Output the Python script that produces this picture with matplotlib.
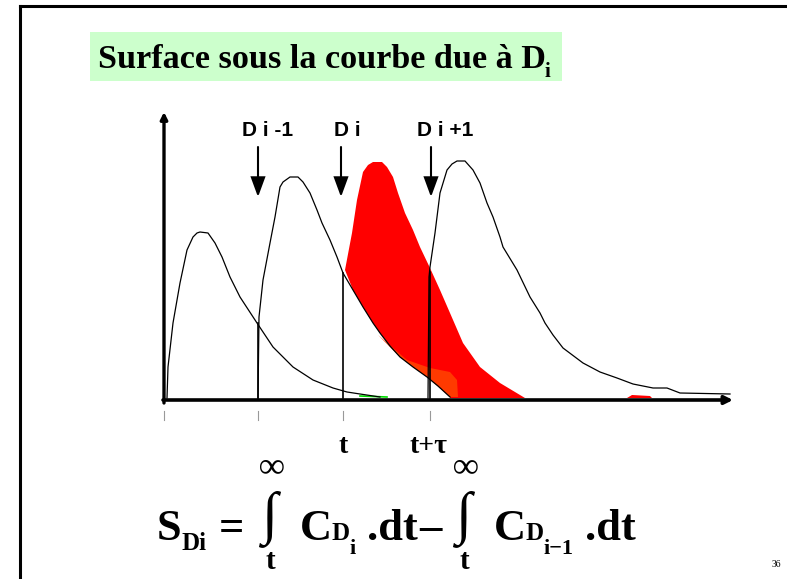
import numpy as np
import matplotlib
matplotlib.use("Agg")
import matplotlib.pyplot as plt
from matplotlib.patches import Rectangle
from matplotlib.lines import Line2D

# Figure size in pixels
W, H = 787, 579

# --- Data (time units, concentration units) ---
# curve of dose D(i-2), fully drawn
c1_t = [0.2, 0.3, 0.8, 1.5, 2.2, 2.8, 3.2, 3.5, 4.3, 5.0, 5.7, 6.5, 7.5, 9.2,
        10.8, 12.8, 14.8, 16.8, 18.2, 19.5, 21.5]
c1_c = [0.0, 3.1, 7.5, 11.5, 14.8, 16.1, 16.5, 16.6, 16.5, 15.5, 14.1, 12.1,
        10.1, 7.5, 5.1, 3.1, 1.8, 1.0, 0.6, 0.4, 0.1]

# curve of dose D(i-1)
c2_t = [9.3, 9.4, 9.8, 10.5, 11.0, 11.5, 11.8, 12.5, 13.3, 13.8, 14.5, 15.2,
        15.7, 16.5, 17.2, 17.8, 18.8, 19.8, 20.8, 21.5, 22.5, 23.5, 24.8,
        26.2, 27.3, 28.5]
c2_c = [0.0, 8.1, 11.8, 15.5, 18.1, 21.1, 21.6, 22.1, 22.1, 21.6, 20.5, 18.8,
        17.5, 15.8, 14.1, 12.5, 10.8, 9.1, 7.5, 6.5, 5.2, 4.1, 3.1, 2.1, 1.2,
        0.1]

# curve of dose D(i), only its part after t is shown (red area)
c3_t = [18.0, 18.7, 19.2, 19.8, 20.3, 20.8, 21.7, 22.2, 22.8, 23.3, 24.0,
        24.8, 25.5, 26.5, 27.5, 28.5, 29.8, 31.5, 33.5, 36.0]
c3_c = [12.8, 16.5, 19.8, 22.6, 23.3, 23.6, 23.6, 23.1, 22.1, 20.5, 18.5,
        16.8, 15.1, 13.0, 10.8, 8.5, 5.5, 3.1, 1.5, 0.0]

# curve of dose D(i+1)
c4_t = [26.3, 26.4, 26.5, 27.0, 27.5, 28.2, 28.7, 29.2, 30.0, 30.8, 31.5,
        32.2, 32.8, 33.5, 33.8, 35.2, 36.5, 37.5, 38.0, 38.8, 39.8, 41.8,
        43.5, 45.2, 46.8, 48.8, 50.2, 51.5, 56.5]
c4_c = [0.0, 12.1, 13.1, 16.5, 20.5, 22.8, 23.4, 23.7, 23.7, 22.8, 21.5,
        19.5, 18.1, 16.1, 15.1, 12.8, 10.1, 8.5, 7.5, 6.3, 5.0, 3.5, 2.6,
        2.0, 1.4, 1.0, 1.0, 0.5, 0.4]

# orange-ish overlap patch inside the red area
patch_t = [21.3, 24.2, 26.5, 28.5, 29.2, 29.3, 28.5, 26.2, 23.5, 21.5]
patch_c = [6.3, 3.8, 3.0, 2.6, 1.8, 0.1, 0.1, 2.1, 4.1, 6.1]

# dose times and labels
dose_t = [9.3, 17.8, 26.5]
dose_tops = [7.5, 12.5, 12.6]      # height reached by the vertical drop lines
arrow_t = [9.3, 17.6, 26.6]
dose_labels = ["D i -1", "D i", "D i +1"]
dose_label_t = [10.3, 18.2, 28.0]
time_labels = ["t", "t+\u03c4"]
time_label_t = [17.8, 26.3]


def px(x, y):
    """pixel position -> figure fraction"""
    return x / W, 1 - y / H


fig = plt.figure(figsize=(W / 100, H / 100), dpi=100)

# slide frame (left and top border)
fig.add_artist(Line2D([20 / W, 20 / W], [0, 1 - 6 / H], color="black", lw=2.2))
fig.add_artist(Line2D([20 / W, 1], [1 - 6 / H, 1 - 6 / H], color="black", lw=2.2))

# title with green background
fig.add_artist(Rectangle(px(90, 81), 472 / W, 49 / H, color="#ccffcc", lw=0))
serif = ["Liberation Serif", "DejaVu Serif"]
fig.text(*px(98, 68), "Surface sous la courbe due \u00e0 D", fontsize=24.6,
         fontweight="bold", family=serif, ha="left", va="baseline")
fig.text(*px(545, 77), "i", fontsize=15, fontweight="bold", family=serif,
         ha="left", va="baseline")

# chart
ax = fig.add_axes([165 / W, (H - 403) / H, 570 / W, 290 / H])
ax.set_xlim(0, 57)
ax.set_ylim(-0.5, 28.5)
ax.axis("off")

# red area: D(i) above D(i-1) after t
tail = [(t, c) for t, c in zip(c2_t, c2_c) if t >= 18.0][::-1]
red_t = c3_t + [28.5] + [p[0] for p in tail]
red_c = c3_c + [0.0] + [p[1] for p in tail]
ax.fill(red_t, red_c, color="#ff0000", lw=0, zorder=1)
ax.fill(patch_t, patch_c, color="#ff3a00", lw=0, zorder=2)
ax.fill([46.2, 46.7, 48.5, 48.7], [0, 0.3, 0.2, 0], color="#ff0000", lw=0, zorder=1)
ax.plot([19.5, 22.2], [0.2, 0.1], color="#00dd00", lw=1.2, zorder=2)

for t, c in [(c1_t, c1_c), (c2_t, c2_c), (c4_t, c4_c)]:
    ax.plot(t, c, color="black", lw=0.9, zorder=3)

# vertical drop lines at the dose times
for t, top in zip(dose_t, dose_tops):
    ax.plot([t, t], [0, top], color="black", lw=1.2, zorder=3)
    ax.plot([t, t], [-1.3, -2.2], color="#999999", lw=0.8, clip_on=False)
ax.plot([-0.1, -0.1], [-1.3, -2.2], color="#999999", lw=0.8, clip_on=False)

# axes with arrows
ax.annotate("", xy=(-0.1, 28.6), xytext=(-0.1, -0.5),
            arrowprops=dict(arrowstyle="-|>", lw=2.4, color="black",
                            mutation_scale=10, shrinkA=0, shrinkB=0),
            annotation_clip=False)
ax.annotate("", xy=(56.8, -0.2), xytext=(-0.2, -0.2),
            arrowprops=dict(arrowstyle="-|>", lw=2.6, color="black",
                            mutation_scale=12, shrinkA=0, shrinkB=0),
            annotation_clip=False)

# dose arrows and labels
for t, lt, lab in zip(arrow_t, dose_label_t, dose_labels):
    ax.annotate("", xy=(t, 20.1), xytext=(t, 25.1),
                arrowprops=dict(arrowstyle="-|>,head_length=0.6,head_width=0.22",
                                lw=1.5, color="black", mutation_scale=20,
                                shrinkA=0, shrinkB=0, joinstyle="miter"),
                annotation_clip=False)
    ax.text(lt, 26.7, lab, fontsize=15, fontweight="bold",
            family=["Liberation Sans", "DejaVu Sans"], ha="center", va="center")

for t, lab in zip(time_label_t, time_labels):
    ax.text(t, -3.6, lab, fontsize=20, fontweight="bold", family=serif,
            ha="center", va="top", clip_on=False)

# formula S_Di = int C_Di dt - int C_Di-1 dt
big = dict(fontweight="bold", family=serif, va="baseline")
fig.text(*px(157, 540), "S", fontsize=32, ha="left", **big)
fig.text(*px(182, 550), "Di", fontsize=18, ha="left", **big)
fig.text(*px(219, 540), "=", fontsize=32, ha="left", **big)
for x0 in [269, 463]:
    fig.text(*px(x0, 531), "\u222b", fontsize=42, ha="center", **big)
    fig.text(*px(x0 + 3, 476), "\u221e", fontsize=26, ha="center", **big)
    fig.text(*px(x0 + 1, 569), "t", fontsize=21, ha="center", **big)
fig.text(*px(300, 540), "C", fontsize=32, ha="left", **big)
fig.text(*px(332, 540), "D", fontsize=18, ha="left", **big)
fig.text(*px(349, 554), "i", fontsize=16, ha="left", **big)
fig.text(*px(367, 540), ".dt", fontsize=32, ha="left", **big)
fig.text(*px(419, 540), "\u2013", fontsize=32, ha="left", **big)
fig.text(*px(494, 540), "C", fontsize=32, ha="left", **big)
fig.text(*px(526, 540), "D", fontsize=18, ha="left", **big)
fig.text(*px(543, 554), "i\u22121", fontsize=16, ha="left", **big)
fig.text(*px(585, 540), ".dt", fontsize=32, ha="left", **big)

# page number, cut by the slide edge
fig.text(*px(772, 567), "36", fontsize=7, family=serif, ha="left", va="baseline")

fig.savefig("out.png", dpi=100)
